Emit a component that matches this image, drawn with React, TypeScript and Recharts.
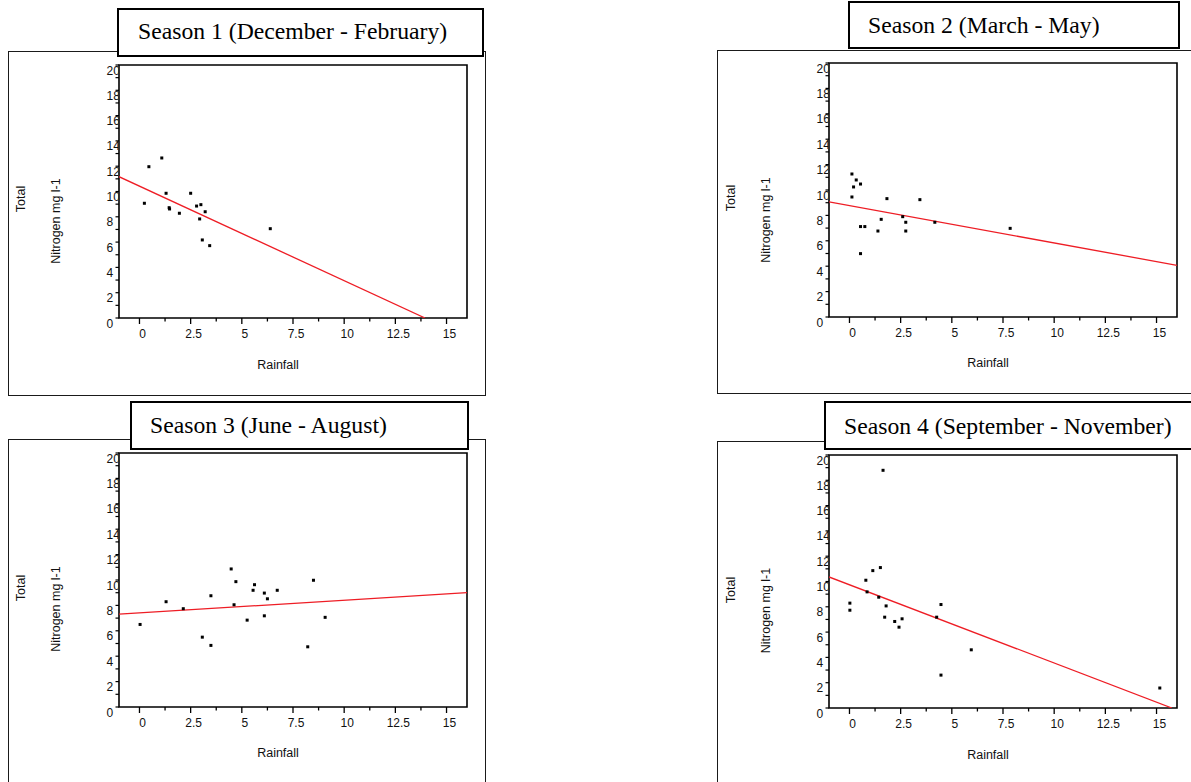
import React from 'react';
import { ScatterChart, Scatter, XAxis, YAxis, ReferenceArea } from 'recharts';

// ---------- data ----------
const seasonTitles = [
  'Season 1 (December - February)',
  'Season 2 (March - May)',
  'Season 3 (June - August)',
  'Season 4 (September - November)',
];
const xAxisTitle = 'Rainfall';
const yAxisTitleTop = 'Total';
const yAxisTitleBottom = 'Nitrogen mg l-1';

const xMajorTicks = [0, 2.5, 5, 7.5, 10, 12.5, 15];
const xMinorTicks = [1.25, 3.75, 6.25, 8.75, 11.25, 13.75];
const yAllTicks = [0, 1, 2, 3, 4, 5, 6, 7, 8, 9, 10, 11, 12, 13, 14, 15, 16, 17, 18, 19, 20];
const yLabelTicks = [0, 2, 4, 6, 8, 10, 12, 14, 16, 18, 20];
const xDomain = [-1, 16];
const yDomain = [0, 20];

const s1Rain = [0.24, 0.46, 1.09, 1.30, 1.45, 1.47, 1.95, 2.50, 2.79, 3.00, 3.21, 2.94, 3.07, 3.43, 6.39];
const s1Nitrogen = [9.07, 11.96, 12.65, 9.86, 8.72, 8.62, 8.28, 9.86, 8.85, 8.96, 8.40, 7.83, 6.17, 5.72, 7.06];
const s1FitRain = [-1, 13.95];
const s1FitNitrogen = [11.17, 0];

const s2Rain = [0.12, 0.33, 0.20, 0.54, 0.12, 1.83, 3.44, 0.54, 0.75, 1.55, 1.39, 2.60, 2.75, 2.75, 4.17, 0.54, 7.85];
const s2Nitrogen = [11.26, 10.79, 10.24, 10.47, 9.45, 9.32, 9.24, 7.12, 7.12, 7.69, 6.77, 7.90, 7.46, 6.77, 7.46, 4.99, 6.98];
const s2FitRain = [-1, 16];
const s2FitNitrogen = [9.06, 4.07];

const s3Rain = [0.03, 1.30, 2.14, 3.07, 3.49, 3.49, 4.48, 4.71, 4.62, 5.26, 5.55, 5.62, 6.10, 6.25, 6.10, 6.73, 8.50, 8.22, 9.07];
const s3Nitrogen = [6.50, 8.29, 7.74, 5.50, 4.85, 8.76, 10.87, 9.87, 8.05, 6.84, 9.19, 9.63, 8.97, 8.52, 7.18, 9.19, 9.98, 4.74, 7.06];
const s3FitRain = [-1, 16];
const s3FitNitrogen = [7.31, 9.0];

const s4Rain = [1.64, 1.51, 1.14, 0.80, 0.86, 1.43, 0.02, 0.02, 1.79, 1.72, 2.21, 2.57, 2.42, 4.26, 4.47, 4.47, 5.95, 15.16];
const s4Nitrogen = [18.79, 11.10, 10.86, 10.10, 9.18, 8.76, 8.29, 7.73, 8.07, 7.18, 6.84, 7.05, 6.39, 7.18, 8.18, 2.60, 4.60, 1.58];
const s4FitRain = [-1, 15.75];
const s4FitNitrogen = [10.36, 0];

const zip = (xs: number[], ys: number[]) => xs.map((x, i) => ({ x, y: ys[i] }));

// ---------- layout (styles only) ----------
const SANS = '"Liberation Sans", Arial, sans-serif';
const SERIF = '"Liberation Serif", "Times New Roman", serif';
const RED = '#ee1d25';

type PanelLayout = {
  plot: { left: number; top: number; w: number; h: number };
  outer: { left: number; top: number; right: number; bottom: number };
  title: { left: number; top: number; right: number; bottom: number; textLeft: number; textTop: number };
  totalPos: [number, number];
  nitroPos: [number, number];
  rainPos: [number, number];
};

const layouts: PanelLayout[] = [
  {
    plot: { left: 119, top: 65, w: 348, h: 253 },
    outer: { left: 7.5, top: 51, right: 485.5, bottom: 395.5 },
    title: { left: 117, top: 8, right: 484, bottom: 57, textLeft: 138, textTop: 20 },
    totalPos: [21, 199], nitroPos: [56, 221], rainPos: [278, 365],
  },
  {
    plot: { left: 829, top: 63, w: 348, h: 254 },
    outer: { left: 717, top: 50, right: 1200, bottom: 393.5 },
    title: { left: 848, top: 0.5, right: 1180, bottom: 49, textLeft: 868, textTop: 13.6 },
    totalPos: [731, 198], nitroPos: [765.5, 220], rainPos: [988, 363],
  },
  {
    plot: { left: 119, top: 453, w: 348, h: 254 },
    outer: { left: 7.5, top: 439, right: 485.5, bottom: 800 },
    title: { left: 129.5, top: 401, right: 468.5, bottom: 450, textLeft: 150, textTop: 413.6 },
    totalPos: [21, 588], nitroPos: [55.5, 609], rainPos: [278, 753],
  },
  {
    plot: { left: 829, top: 455, w: 348, h: 253 },
    outer: { left: 717, top: 441, right: 1200, bottom: 800 },
    title: { left: 823.5, top: 401, right: 1200, bottom: 449.5, textLeft: 844, textTop: 414.6 },
    totalPos: [731, 590], nitroPos: [765.5, 610.5], rainPos: [988, 755],
  },
];

const seasonPoints = [zip(s1Rain, s1Nitrogen), zip(s2Rain, s2Nitrogen), zip(s3Rain, s3Nitrogen), zip(s4Rain, s4Nitrogen)];
const seasonFits = [
  zip(s1FitRain, s1FitNitrogen),
  zip(s2FitRain, s2FitNitrogen),
  zip(s3FitRain, s3FitNitrogen),
  zip(s4FitRain, s4FitNitrogen),
];

// ---------- custom renderers ----------
const XTick = (props: any) => {
  const { x, y, payload } = props;
  const v = payload.value;
  const major = xMajorTicks.includes(v);
  return (
    <g>
      <line x1={x} x2={x} y1={y} y2={y + (major ? 6 : 3.5)} stroke="#000" strokeWidth={1.3} />
      {major && (
        <text x={x + 3} y={y + 20} textAnchor="middle" fontSize={12} fontFamily={SANS} fill="#111">
          {String(v)}
        </text>
      )}
    </g>
  );
};

const makeYTick = (pid: number) => (props: any) => {
  const { x, y, payload } = props;
  const v = payload.value;
  const labeled = yLabelTicks.includes(v);
  const cid = `yclip-${pid}-${v}`;
  return (
    <g>
      <line x1={x - 3.5} x2={x} y1={y} y2={y} stroke="#000" strokeWidth={1.2} />
      {labeled && (
        <g>
          <defs>
            <clipPath id={cid}>
              <rect x={x - 30} y={y - 20} width={29.2} height={40} />
            </clipPath>
          </defs>
          <text x={x - 12.5} y={y + 9.5} fontSize={12} fontFamily={SANS} fill="#111" clipPath={`url(#${cid})`}>
            {String(v)}
          </text>
        </g>
      )}
    </g>
  );
};

const SquareDot = (props: any) => {
  const { cx, cy } = props;
  if (cx == null || cy == null) return <g />;
  return <rect x={cx - 1.5} y={cy - 1.5} width={3} height={3} fill="#000" />;
};

const NoDot = () => <g />;

const ML = 39;
const YW = 1;
const MT = 12;
const MR = 20;
const MB = 29;
const XH = 1;

function Panel({ idx }: { idx: number }) {
  const L = layouts[idx];
  const { plot, outer, title } = L;
  const YTick = makeYTick(idx);
  return (
    <>
      <div
        style={{
          position: 'absolute',
          left: outer.left,
          top: outer.top,
          width: outer.right - outer.left,
          height: outer.bottom - outer.top,
          border: '1px solid #1a1a1a',
          boxSizing: 'border-box',
          background: '#fff',
        }}
      />
      <div style={{ position: 'absolute', left: plot.left - ML - YW, top: plot.top - MT }}>
        <ScatterChart
          width={plot.w + ML + YW + MR}
          height={plot.h + MT + MB + XH}
          margin={{ top: MT, right: MR, bottom: MB, left: ML }}
        >
          <XAxis
            dataKey="x"
            type="number"
            domain={xDomain}
            allowDataOverflow
            ticks={[...xMajorTicks, ...xMinorTicks].sort((a, b) => a - b)}
            interval={0}
            tickSize={0}
            tickMargin={0}
            height={XH}
            axisLine={false}
            tickLine={false}
            tick={<XTick />}
          />
          <YAxis
            dataKey="y"
            type="number"
            domain={yDomain}
            allowDataOverflow
            ticks={yAllTicks}
            interval={0}
            tickSize={0}
            tickMargin={0}
            width={YW}
            axisLine={false}
            tickLine={false}
            tick={<YTick />}
          />
          <ReferenceArea
            x1={xDomain[0]}
            x2={xDomain[1]}
            y1={yDomain[0]}
            y2={yDomain[1]}
            fill="none"
            fillOpacity={0}
            stroke="#000"
            strokeWidth={1.6}
            ifOverflow="visible"
          />
          <Scatter
            data={seasonFits[idx]}
            line={{ stroke: RED, strokeWidth: 1.3 }}
            shape={<NoDot />}
            isAnimationActive={false}
          />
          <Scatter data={seasonPoints[idx]} shape={<SquareDot />} fill="#000" isAnimationActive={false} />
        </ScatterChart>
      </div>
      <div
        style={{
          position: 'absolute',
          left: title.left,
          top: title.top,
          width: title.right - title.left,
          height: title.bottom - title.top,
          border: '2px solid #000',
          boxSizing: 'border-box',
          background: '#fff',
        }}
      />
      <div
        style={{
          position: 'absolute',
          left: title.textLeft,
          top: title.textTop,
          fontFamily: SERIF,
          fontSize: 23.7,
          lineHeight: 1,
          color: '#000',
          whiteSpace: 'nowrap',
        }}
      >
        {seasonTitles[idx]}
      </div>
    </>
  );
}

export default function App() {
  return (
    <div
      style={{
        position: 'absolute',
        left: 0,
        top: 0,
        width: 1191,
        height: 782,
        overflow: 'hidden',
        background: '#fff',
      }}
    >
      {[0, 1, 2, 3].map((i) => (
        <Panel key={i} idx={i} />
      ))}
      <svg
        width={1191}
        height={782}
        style={{ position: 'absolute', left: 0, top: 0, pointerEvents: 'none' }}
      >
        {layouts.map((L, i) => (
          <g key={i} fontFamily={SANS} fontSize={12.5} fill="#111">
            <text
              x={L.totalPos[0]}
              y={L.totalPos[1]}
              textAnchor="middle"
              dominantBaseline="central"
              transform={`rotate(-90 ${L.totalPos[0]} ${L.totalPos[1]})`}
            >
              {yAxisTitleTop}
            </text>
            <text
              x={L.nitroPos[0]}
              y={L.nitroPos[1]}
              textAnchor="middle"
              dominantBaseline="central"
              transform={`rotate(-90 ${L.nitroPos[0]} ${L.nitroPos[1]})`}
            >
              {yAxisTitleBottom}
            </text>
            <text x={L.rainPos[0]} y={L.rainPos[1]} textAnchor="middle" dominantBaseline="central">
              {xAxisTitle}
            </text>
          </g>
        ))}
      </svg>
    </div>
  );
}
